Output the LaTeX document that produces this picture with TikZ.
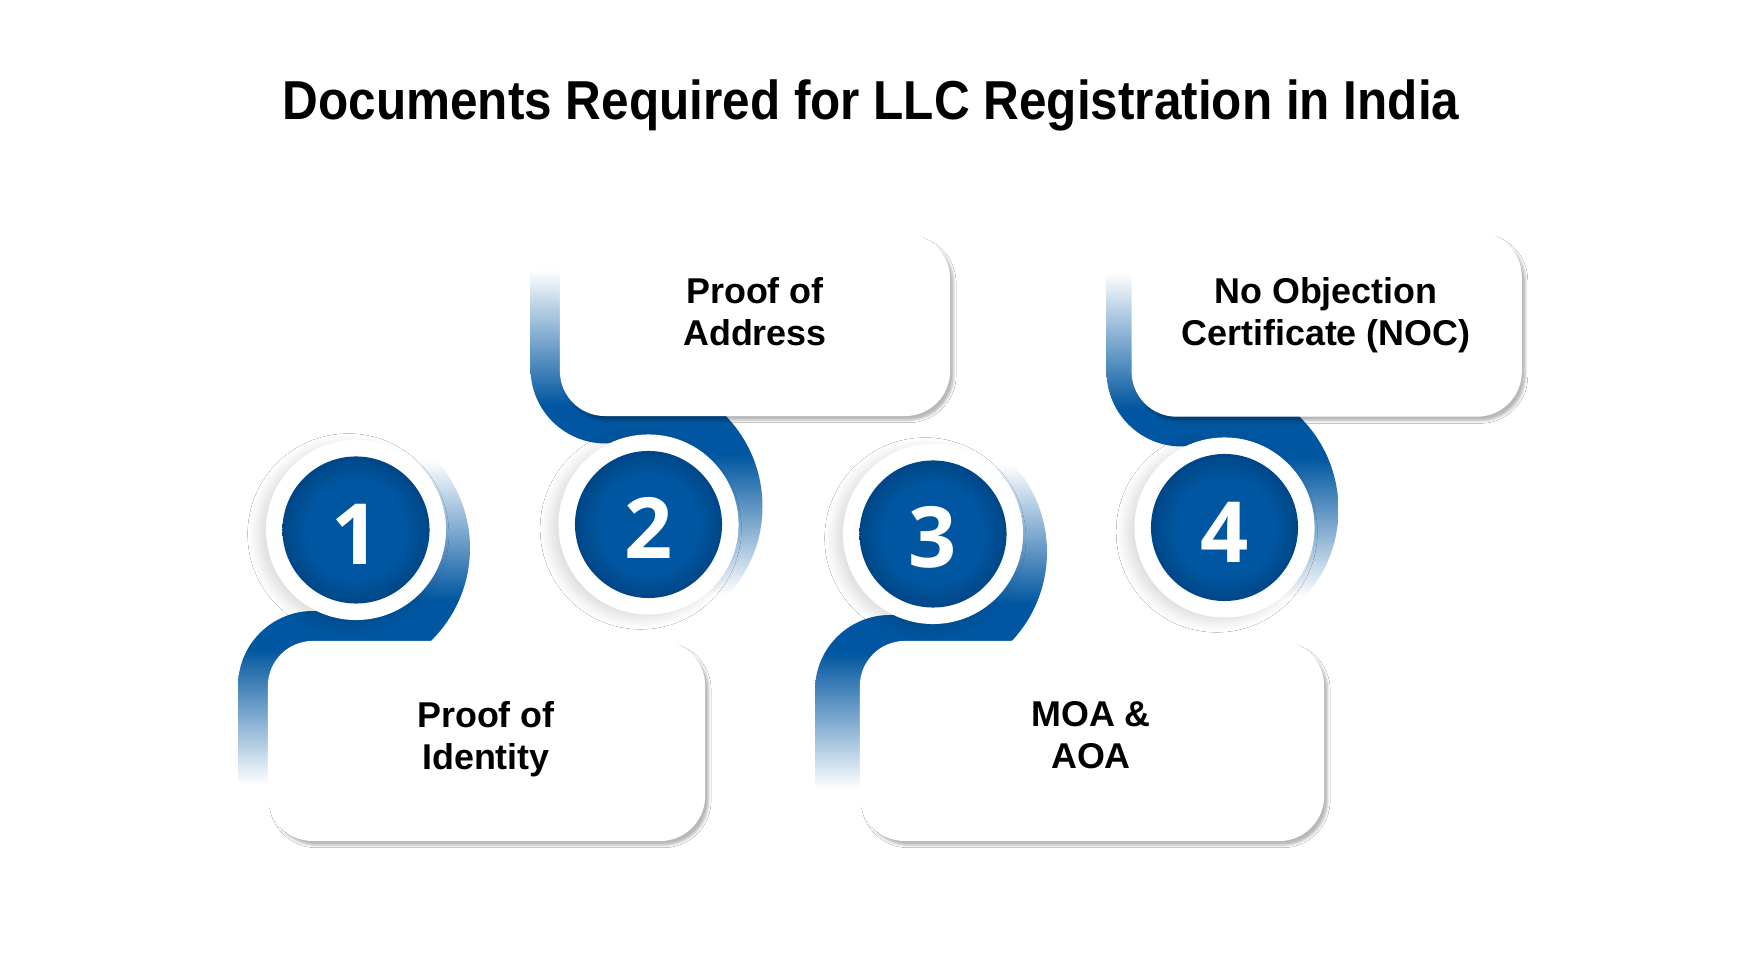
\documentclass[tikz,border=0pt]{standalone}
\usepackage{fontspec}
\usepackage{graphicx}
\usetikzlibrary{shadows.blur}
\newfontfamily\titlefont{Liberation Sans}
\newfontfamily\numfont{Open Sans}
\definecolor{myblue}{RGB}{0,86,160}
\definecolor{darkblue}{RGB}{0,70,135}
\pgfdeclareverticalshading{arcA}{100bp}{color(0bp)=(myblue); color(40bp)=(myblue); color(67bp)=(white); color(100bp)=(white)}
\pgfdeclareverticalshading{arcB}{100bp}{color(0bp)=(white); color(33bp)=(white); color(60bp)=(myblue); color(100bp)=(myblue)}
\pgfdeclareverticalshading{bandA}{100bp}{color(0bp)=(white); color(29bp)=(white); color(65bp)=(myblue); color(100bp)=(myblue)}
\pgfdeclareverticalshading{bandB}{100bp}{color(0bp)=(myblue); color(35bp)=(myblue); color(71bp)=(white); color(100bp)=(white)}
\pgfdeclareradialshading{innerball}{\pgfpoint{0bp}{0bp}}{color(0bp)=(myblue); color(17bp)=(myblue); color(25bp)=(darkblue); color(50bp)=(darkblue)}
\tikzset{
  ring/.style={circle, fill=white, minimum size=1.8cm, inner sep=0pt,
    blur shadow={shadow xshift=-2.2pt, shadow yshift=-1.2pt, shadow blur radius=3pt, shadow blur steps=12, shadow opacity=14}},
  ball/.style={circle, shade, shading=innerball, minimum size=1.47cm, inner sep=0pt},
  digit/.style={text=white, inner sep=0pt, font=\numfont\bfseries\fontsize{24}{24}\selectfont},
  card/.style={rectangle, rounded corners=0.45cm, fill=white, inner sep=0pt,
    blur shadow={shadow xshift=1pt, shadow yshift=-1.2pt, shadow blur radius=0.7pt, shadow opacity=28}},
  cardtext/.style={align=center, text=black, inner sep=0pt, font=\titlefont\bfseries\fontsize{10.2}{11.95}\selectfont},
}
\begin{document}
\begin{tikzpicture}[x=0.01cm, y=-0.01cm]
\fill[white] (0,0) rectangle (1742,980);
\useasboundingbox (0,0) rectangle (1742,980);

% title
\node[anchor=base, inner sep=0pt] (title) at (871,120)
  {\resizebox{11.76cm}{\height}{\titlefont\bfseries\fontsize{15.6}{19}\selectfont Documents Required for LLC Registration in India}};

% blue swooshes: pair 1
\begin{scope}
  \clip (356,405) rectangle (496,641);
  \shade[shading=arcA] (340,548) circle[radius=130];
\end{scope}
\shade[shading=bandA] (370,611) -- (313,611) arc[start angle=270, end angle=180, radius=75] -- (238,800) -- (370,800) -- cycle;
% pair 3
\begin{scope}
  \clip (933,405) rectangle (1073,641);
  \shade[shading=arcA] (917,552) circle[radius=130];
\end{scope}
\shade[shading=bandA] (947,615) -- (890,615) arc[start angle=270, end angle=180, radius=75] -- (815,804) -- (947,804) -- cycle;
% pair 2
\begin{scope}
  \clip (648.5,416) rectangle (788.5,650);
  \shade[shading=arcB] (632.5,506.5) circle[radius=130];
\end{scope}
\shade[shading=bandB] (662.5,443.5) -- (605.5,443.5) arc[start angle=90, end angle=180, radius=75] -- (530.5,254.5) -- (662.5,254.5) -- cycle;
% pair 4
\begin{scope}
  \clip (1224.5,416.7) rectangle (1364.5,655);
  \shade[shading=arcB] (1208.5,509.5) circle[radius=130];
\end{scope}
\shade[shading=bandB] (1238.5,446.5) -- (1181.5,446.5) arc[start angle=90, end angle=180, radius=75] -- (1106.5,257.5) -- (1238.5,257.5) -- cycle;

% circles
\node[ring] (r1) at (356,530) {};
\node[ball] (c1) at (356,530) {};
\node[digit] (d1) at (356,534) {1};
\node[ring] (r2) at (648.5,524.5) {};
\node[ball] (c2) at (648.5,524.5) {};
\node[digit] (d2) at (648.5,527.5) {2};
\node[ring] (r3) at (933,534) {};
\node[ball] (c3) at (933,534) {};
\node[digit] (d3) at (933,537) {3};
\node[ring] (r4) at (1224.5,527.5) {};
\node[ball] (c4) at (1224.5,527.5) {};
\node[digit] (d4) at (1224.5,532) {4};

% cards
\node[card, minimum width=4.37cm, minimum height=2cm] (b1) at (486.5,741) {};
\node[card, minimum width=3.9cm, minimum height=1.82cm] (b2) at (755,325) {};
\node[card, minimum width=4.64cm, minimum height=2cm] (b3) at (1092,741) {};
\node[card, minimum width=3.9cm, minimum height=1.847cm] (b4) at (1326.7,324.3) {};

\node[cardtext] (t1) at (486,739) {Proof of\\Identity};
\node[cardtext] (t2) at (755,312) {Proof of\\Address};
\node[cardtext] (t3) at (1091,735) {MOA \&\\AOA};
\node[cardtext] (t4) at (1326,315) {No Objection\\Certificate (NOC)};
\end{tikzpicture}
\end{document}
